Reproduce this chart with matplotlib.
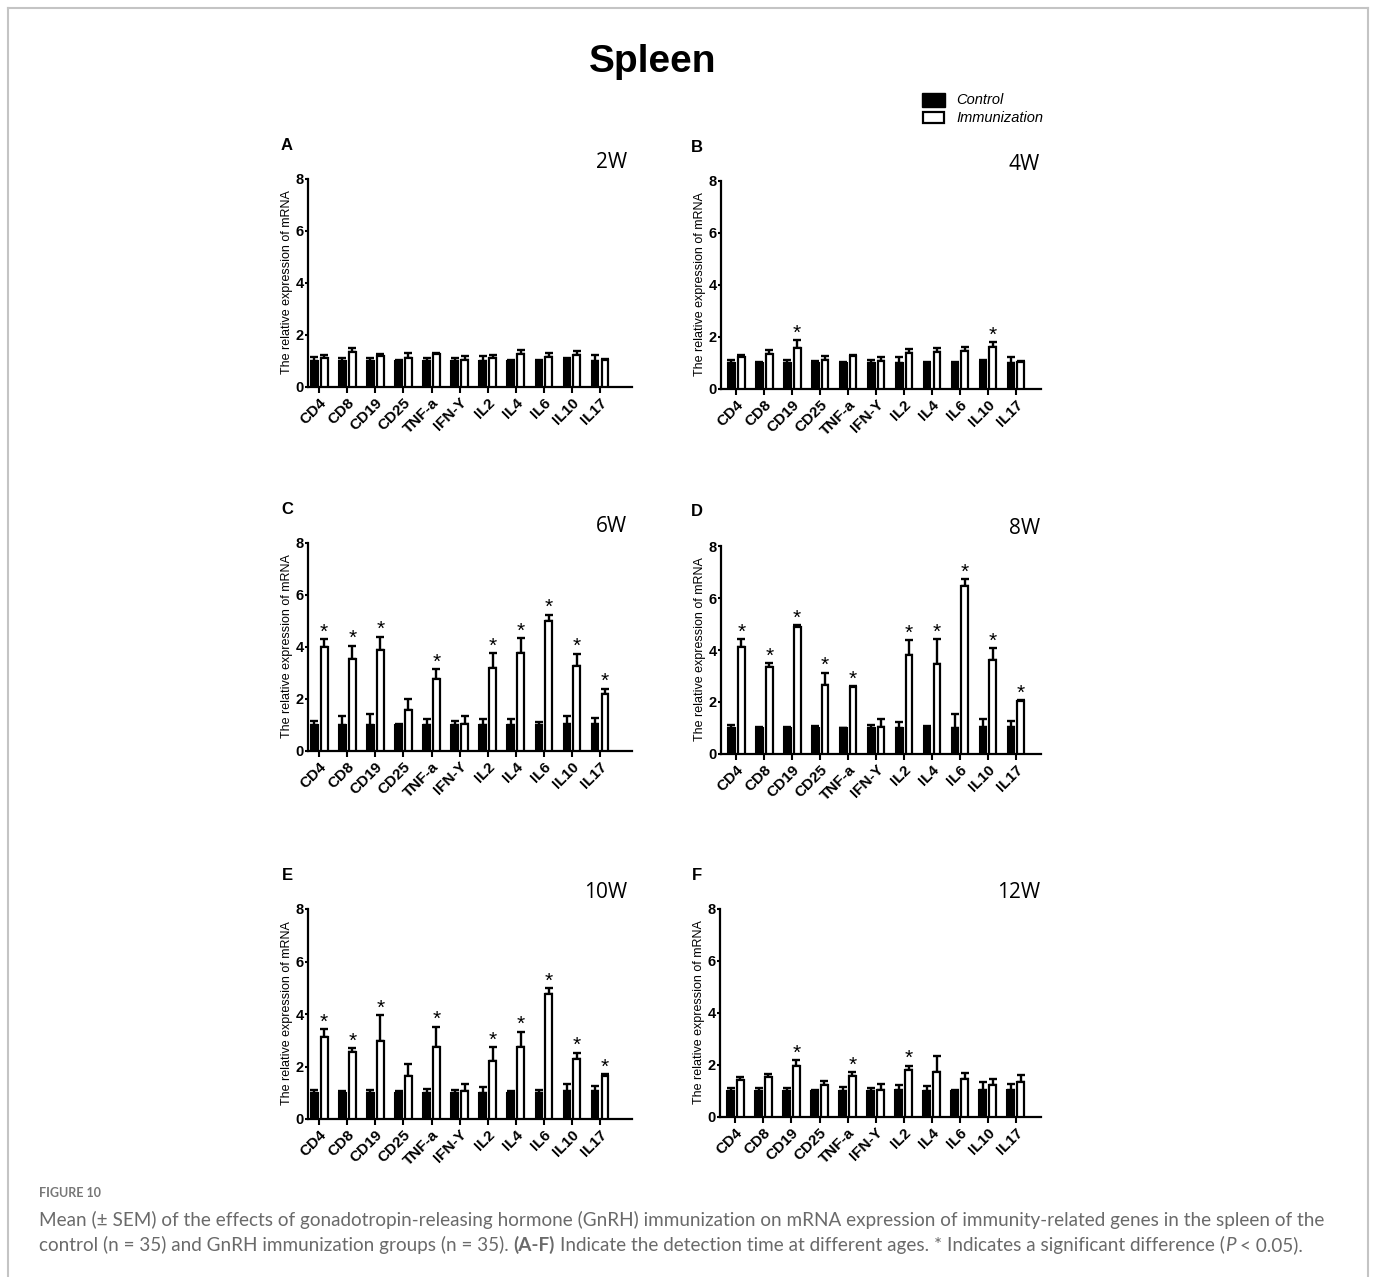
#!/usr/bin/env python3
"""
Spleen mRNA expression, control vs GnRH immunization, six ages (2W - 12W)
"""

import numpy as np
import matplotlib
matplotlib.use('Agg')
import matplotlib.pyplot as plt
from matplotlib.patches import Rectangle
from matplotlib.lines import Line2D

W, H = 1375, 1277

genes = ['CD4', 'CD8', 'CD19', 'CD25', 'TNF-a', 'IFN-Y', 'IL2', 'IL4', 'IL6', 'IL10', 'IL17']
weeks = ['2W', '4W', '6W', '8W', '10W', '12W']
letters = ['A', 'B', 'C', 'D', 'E', 'F']

# means and upper SEM
ctrl_2w = [1.0, 1.0, 1.0, 1.0, 1.0, 1.0, 1.0, 1.0, 1.0, 1.05, 1.0]
ctrl_2w_err = [0.14, 0.10, 0.10, 0.03, 0.12, 0.10, 0.20, 0.03, 0.05, 0.05, 0.25]
imm_2w = [1.10, 1.35, 1.20, 1.10, 1.28, 1.05, 1.10, 1.28, 1.15, 1.22, 1.03]
imm_2w_err = [0.15, 0.15, 0.07, 0.20, 0.04, 0.15, 0.15, 0.14, 0.15, 0.16, 0.05]
stars_2w = []

ctrl_4w = [1.0, 1.0, 1.0, 1.0, 1.0, 1.0, 1.0, 1.0, 1.0, 1.05, 1.0]
ctrl_4w_err = [0.12, 0.02, 0.12, 0.06, 0.02, 0.12, 0.22, 0.03, 0.05, 0.05, 0.25]
imm_4w = [1.22, 1.35, 1.58, 1.10, 1.28, 1.08, 1.38, 1.42, 1.48, 1.63, 1.02]
imm_4w_err = [0.10, 0.15, 0.30, 0.17, 0.04, 0.17, 0.14, 0.15, 0.12, 0.17, 0.05]
stars_4w = ['CD19', 'IL10']

ctrl_6w = [1.0, 1.0, 1.0, 1.0, 1.0, 1.0, 1.0, 1.0, 1.0, 1.05, 1.05]
ctrl_6w_err = [0.14, 0.33, 0.44, 0.05, 0.22, 0.15, 0.22, 0.25, 0.13, 0.30, 0.23]
imm_6w = [4.00, 3.55, 3.90, 1.56, 2.77, 1.05, 3.20, 3.77, 5.00, 3.28, 2.20]
imm_6w_err = [0.30, 0.50, 0.50, 0.45, 0.37, 0.30, 0.57, 0.58, 0.25, 0.47, 0.20]
stars_6w = ['CD4', 'CD8', 'CD19', 'TNF-a', 'IL2', 'IL4', 'IL6', 'IL10', 'IL17']

ctrl_8w = [1.0, 1.0, 1.0, 1.0, 1.0, 1.0, 1.0, 1.0, 1.0, 1.05, 1.05]
ctrl_8w_err = [0.12, 0.02, 0.03, 0.08, 0.01, 0.12, 0.23, 0.07, 0.53, 0.30, 0.22]
imm_8w = [4.13, 3.35, 4.90, 2.65, 2.58, 1.05, 3.82, 3.47, 6.47, 3.60, 2.02]
imm_8w_err = [0.30, 0.15, 0.07, 0.48, 0.04, 0.28, 0.56, 0.96, 0.26, 0.47, 0.05]
stars_8w = ['CD4', 'CD8', 'CD19', 'CD25', 'TNF-a', 'IL2', 'IL4', 'IL6', 'IL10', 'IL17']

ctrl_10w = [1.0, 1.0, 1.0, 1.0, 1.0, 1.0, 1.0, 1.0, 1.0, 1.05, 1.05]
ctrl_10w_err = [0.12, 0.08, 0.10, 0.06, 0.14, 0.12, 0.22, 0.05, 0.12, 0.30, 0.22]
imm_10w = [3.12, 2.55, 2.98, 1.65, 2.75, 1.05, 2.20, 2.75, 4.75, 2.27, 1.63]
imm_10w_err = [0.31, 0.15, 0.99, 0.45, 0.77, 0.28, 0.55, 0.58, 0.25, 0.26, 0.07]
stars_10w = ['CD4', 'CD8', 'CD19', 'TNF-a', 'IL2', 'IL4', 'IL6', 'IL10', 'IL17']

ctrl_12w = [1.0, 1.0, 1.0, 1.0, 1.0, 1.0, 1.02, 1.0, 1.0, 1.05, 1.05]
ctrl_12w_err = [0.12, 0.12, 0.12, 0.05, 0.14, 0.12, 0.20, 0.18, 0.05, 0.28, 0.22]
imm_12w = [1.42, 1.52, 1.98, 1.22, 1.57, 1.02, 1.82, 1.75, 1.47, 1.22, 1.35]
imm_12w_err = [0.13, 0.14, 0.20, 0.15, 0.17, 0.26, 0.16, 0.58, 0.23, 0.26, 0.27]
stars_12w = ['CD19', 'TNF-a', 'IL2']

panels = [
    (ctrl_2w, ctrl_2w_err, imm_2w, imm_2w_err, stars_2w),
    (ctrl_4w, ctrl_4w_err, imm_4w, imm_4w_err, stars_4w),
    (ctrl_6w, ctrl_6w_err, imm_6w, imm_6w_err, stars_6w),
    (ctrl_8w, ctrl_8w_err, imm_8w, imm_8w_err, stars_8w),
    (ctrl_10w, ctrl_10w_err, imm_10w, imm_10w_err, stars_10w),
    (ctrl_12w, ctrl_12w_err, imm_12w, imm_12w_err, stars_12w),
]

# axes boxes in pixels: left, top (y=8), right, bottom (y=0)
boxes = [
    (308, 179, 632, 387), (721, 181, 1041, 389),
    (308, 543, 632, 751), (721, 546, 1041, 754),
    (308, 909, 632, 1119), (720, 909, 1041, 1117),
]
xlims = [(-0.40, 11.14), (-0.55, 10.90)]

ARIAL = 'Liberation Sans'

fig = plt.figure(figsize=(W / 100, H / 100), dpi=100)


def fx(x):
    return x / W


def fy(y):
    return 1 - y / H


def draw_panel(ax, ctrl, ctrl_err, imm, imm_err, stars, xlim):
    x = np.arange(len(genes))
    off, bw = 0.175, 0.24
    zeros = np.zeros(len(genes))
    ax.errorbar(x - off, ctrl, yerr=[zeros, ctrl_err], fmt='none', ecolor='black',
                elinewidth=1.7, capsize=3, capthick=1.7, zorder=2)
    ax.errorbar(x + off, imm, yerr=[zeros, imm_err], fmt='none', ecolor='black',
                elinewidth=1.7, capsize=3, capthick=1.7, zorder=2)
    ax.bar(x - off, ctrl, bw, color='black', edgecolor='black', linewidth=1.5, zorder=3)
    ax.bar(x + off, imm, bw, color='white', edgecolor='black', linewidth=1.6, zorder=3)

    for g in stars:
        i = genes.index(g)
        ax.annotate('*', xy=(x[i] + off, imm[i] + imm_err[i]), xytext=(0, 1),
                    textcoords='offset points', ha='center', va='baseline',
                    fontsize=15, family=ARIAL)

    ax.set_xlim(*xlim)
    ax.set_ylim(0, 8)
    ax.set_yticks([0, 2, 4, 6, 8])
    ax.set_xticks(x)
    ax.set_xticklabels(genes, rotation=45, ha='right', rotation_mode='anchor',
                       fontsize=11, fontweight='bold', family=ARIAL)
    for lab in ax.get_yticklabels():
        lab.set_fontweight('bold')
        lab.set_fontsize(10.5)
        lab.set_family(ARIAL)
    ax.tick_params(axis='y', direction='out', length=2.5, width=1.5, pad=0.5)
    ax.tick_params(axis='x', direction='out', length=4, width=1.5, pad=2)
    for s in ['top', 'right']:
        ax.spines[s].set_visible(False)
    for s in ['left', 'bottom']:
        ax.spines[s].set_linewidth(1.6)
    ax.patch.set_alpha(0)


for k, (box, data) in enumerate(zip(boxes, panels)):
    l, t, r, b = box
    ax = fig.add_axes([fx(l), fy(b), (r - l) / W, (b - t) / H])
    draw_panel(ax, *data, xlims[k % 2])
    # y label
    fig.text(fx(l - 21), fy((t + b) / 2 - 1), 'The relative expression of mRNA',
             rotation=90, ha='center', va='center', fontsize=9, family=ARIAL)
    # panel letter and age
    lx = 287 if k % 2 == 0 else 697
    fig.text(fx(lx), fy(t - 34), letters[k], ha='center', va='center',
             fontsize=12, fontweight='bold', family=ARIAL)
    wx = 627 if k % 2 == 0 else 1040
    fig.text(fx(wx), fy(t - 17), weeks[k], ha='right', va='center',
             fontsize=15, family='Open Sans')

# title
fig.text(fx(653), fy(62), 'Spleen', ha='center', va='center', fontsize=28,
         fontweight='bold', family=ARIAL)

# legend
fig.patches.append(Rectangle((fx(922), fy(107)), 23 / W, 14 / H, transform=fig.transFigure,
                             facecolor='black', edgecolor='black', linewidth=1))
fig.patches.append(Rectangle((fx(923), fy(123)), 21 / W, 11 / H, transform=fig.transFigure,
                             facecolor='white', edgecolor='black', linewidth=1.6))
fig.text(fx(956), fy(100), 'Control', ha='left', va='center', fontsize=10.5,
         style='italic', family=ARIAL)
fig.text(fx(956), fy(118), 'Immunization', ha='left', va='center', fontsize=10.5,
         style='italic', family=ARIAL)

# frame round the figure (no bottom line)
frame_c = '#c4c4c4'
for xs, ys in [([8, 8], [8, H]), ([1368, 1368], [8, H]), ([8, 1368], [8, 8])]:
    fig.add_artist(Line2D([fx(v) for v in xs], [fy(v) for v in ys],
                          transform=fig.transFigure, color=frame_c, linewidth=1.5))

# caption
cap_c = '#6a6a6a'
CAP = 'Lato'
fig.text(fx(39), fy(1197), 'FIGURE 10', ha='left', va='baseline', fontsize=9,
         fontweight='bold', family=CAP, color='#777777')

renderer = fig.canvas.get_renderer()


def text_width(s, **kw):
    t = fig.text(0, 0, s, **kw)
    w = t.get_window_extent(renderer).width
    t.remove()
    return w


def draw_runs(x0, y, runs, size):
    base = dict(fontsize=size, family=CAP, color=cap_c)
    space = text_width('x x', **base) - text_width('xx', **base)
    x = x0
    for s, extra in runs:
        kw = dict(base, **extra)
        if s.startswith(' '):
            x += space
        s = s.strip()
        t = fig.text(fx(x), fy(y), s, ha='left', va='baseline', **kw)
        x += t.get_window_extent(renderer).width


cap_size = 13.6
draw_runs(39, 1226, [('Mean (± SEM) of the effects of gonadotropin-releasing hormone (GnRH) '
                      'immunization on mRNA expression of immunity-related genes in the spleen of the',
                      {})], cap_size)
draw_runs(39, 1251, [
    ('control (n = 35) and GnRH immunization groups (n = 35).', {}),
    (' (A-F)', {'fontweight': 'bold'}),
    (' Indicate the detection time at different ages. * Indicates a significant difference (', {}),
    ('P', {'style': 'italic'}),
    (' < 0.05).', {}),
], cap_size)

fig.savefig('out.png', dpi=100)
